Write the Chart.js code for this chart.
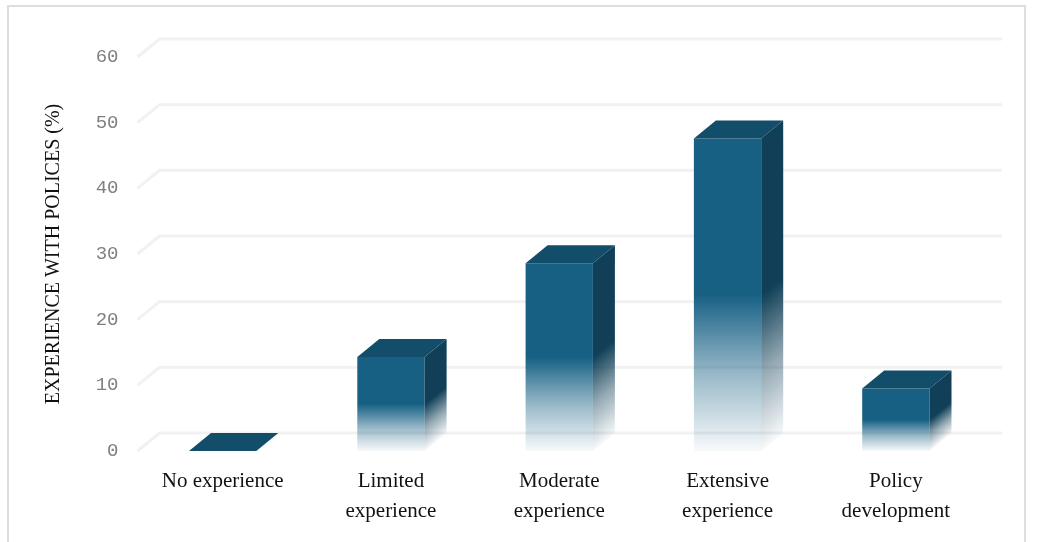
<!DOCTYPE html>
<html>
<head>
<meta charset="utf-8">
<style>
  html, body { margin: 0; padding: 0; background: #fff; }
  #wrap { position: relative; width: 1039px; height: 542px; overflow: hidden; }
  #frame { position: absolute; left: 7px; top: 5px; width: 1019px; height: 540px; border: 2px solid #dedede; box-sizing: border-box; }
  canvas { position: absolute; left: 0; top: 0; }
</style>
</head>
<body>
<div id="wrap">
  <div id="frame"></div>
  <canvas id="policyChart" width="1039" height="542"></canvas>
</div>
<script src="https://cdn.jsdelivr.net/npm/chart.js@4/dist/chart.umd.min.js"></script>
<script>
const categories = ['No experience', ['Limited', 'experience'], ['Moderate', 'experience'], ['Extensive', 'experience'], ['Policy', 'development']]
const shares = [0, 14.3, 28.6, 47.6, 9.5]
const yTicks = [0, 10, 20, 30, 40, 50, 60]
const yTitle = 'EXPERIENCE WITH POLICES (%)'

const frontColor = '#176084'
const topColor = '#124d6a'
const sideColor = '#103f57'
const gridColor = '#f1f1f1'

// how far the back plane sits from the front plane
const depthX = 22
const depthY = 18

// solid for the upper half of a bar, then fading out towards the floor
function fadeGradient(ctx, top, bottom, rgb) {
  const g = ctx.createLinearGradient(0, top, 0, bottom)
  g.addColorStop(0, `rgba(${rgb},1)`)
  g.addColorStop(0.5, `rgba(${rgb},1)`)
  g.addColorStop(0.75, `rgba(${rgb},0.45)`)
  g.addColorStop(1, `rgba(${rgb},0.03)`)
  return g
}

const wallAndFloor = {
  id: 'wallAndFloor',
  beforeDatasetsDraw(chart) {
    const { ctx, chartArea, scales } = chart
    ctx.save()
    ctx.strokeStyle = gridColor
    ctx.lineWidth = 3
    yTicks.forEach(v => {
      const y = scales.y.getPixelForValue(v)
      ctx.beginPath()
      ctx.moveTo(chartArea.left - 1, y)
      ctx.lineTo(chartArea.left - 1 + depthX, y - depthY)
      ctx.lineTo(chartArea.right + depthX, y - depthY)
      ctx.stroke()
    })
    ctx.restore()
  }
}

const barFaces = {
  id: 'barFaces',
  afterDatasetsDraw(chart) {
    const { ctx } = chart
    chart.getDatasetMeta(0).data.forEach(bar => {
      const left = bar.x - bar.width / 2
      const right = bar.x + bar.width / 2

      // top face
      ctx.fillStyle = topColor
      ctx.beginPath()
      ctx.moveTo(left, bar.y)
      ctx.lineTo(left + depthX, bar.y - depthY)
      ctx.lineTo(right + depthX, bar.y - depthY)
      ctx.lineTo(right, bar.y)
      ctx.closePath()
      ctx.fill()

      if (bar.base - bar.y < 1) return

      // side face, sheared so the fade runs along the slanted edge
      ctx.save()
      ctx.transform(1, -depthY / depthX, 0, 1, right, bar.y)
      ctx.fillStyle = fadeGradient(ctx, 0, bar.base - bar.y, '16,63,87')
      ctx.fillRect(0, 0, depthX, bar.base - bar.y)
      ctx.restore()
    })
  }
}

new Chart(document.getElementById('policyChart'), {
  type: 'bar',
  data: {
    labels: categories,
    datasets: [{
      data: shares,
      categoryPercentage: 1,
      barPercentage: 0.4,
      borderWidth: 0,
      backgroundColor(c) {
        if (!c.chart.chartArea || c.raw === undefined) return frontColor
        const y = c.chart.scales.y
        return fadeGradient(c.chart.ctx, y.getPixelForValue(c.raw), y.getPixelForValue(0), '23,96,132')
      },
    }]
  },
  options: {
    responsive: false,
    animation: false,
    layout: { padding: { left: 0, right: 59, top: 57, bottom: 0 } },
    plugins: {
      legend: { display: false },
      tooltip: { enabled: false },
    },
    scales: {
      y: {
        min: 0,
        max: 60,
        afterFit: s => { s.width = 138.5 },
        afterBuildTicks: s => { s.ticks = yTicks.map(value => ({ value })) },
        grid: { display: false, drawTicks: false },
        border: { display: false },
        ticks: {
          padding: 20,
          color: '#7f7f7f',
          font: { family: "'Liberation Mono', monospace", size: 19 },
        },
        title: {
          display: true,
          text: yTitle,
          color: '#111',
          padding: { top: 42, bottom: 0 },
          font: { family: "'Liberation Serif', serif", size: 20 },
        },
      },
      x: {
        afterFit: s => { s.height = 91 },
        grid: { display: false, drawTicks: false },
        border: { display: false },
        ticks: {
          padding: 16,
          maxRotation: 0,
          autoSkip: false,
          color: '#111',
          font: { family: "'Liberation Serif', serif", size: 21, lineHeight: 1.4 },
        },
      },
    },
  },
  plugins: [wallAndFloor, barFaces],
})
</script>
</body>
</html>
